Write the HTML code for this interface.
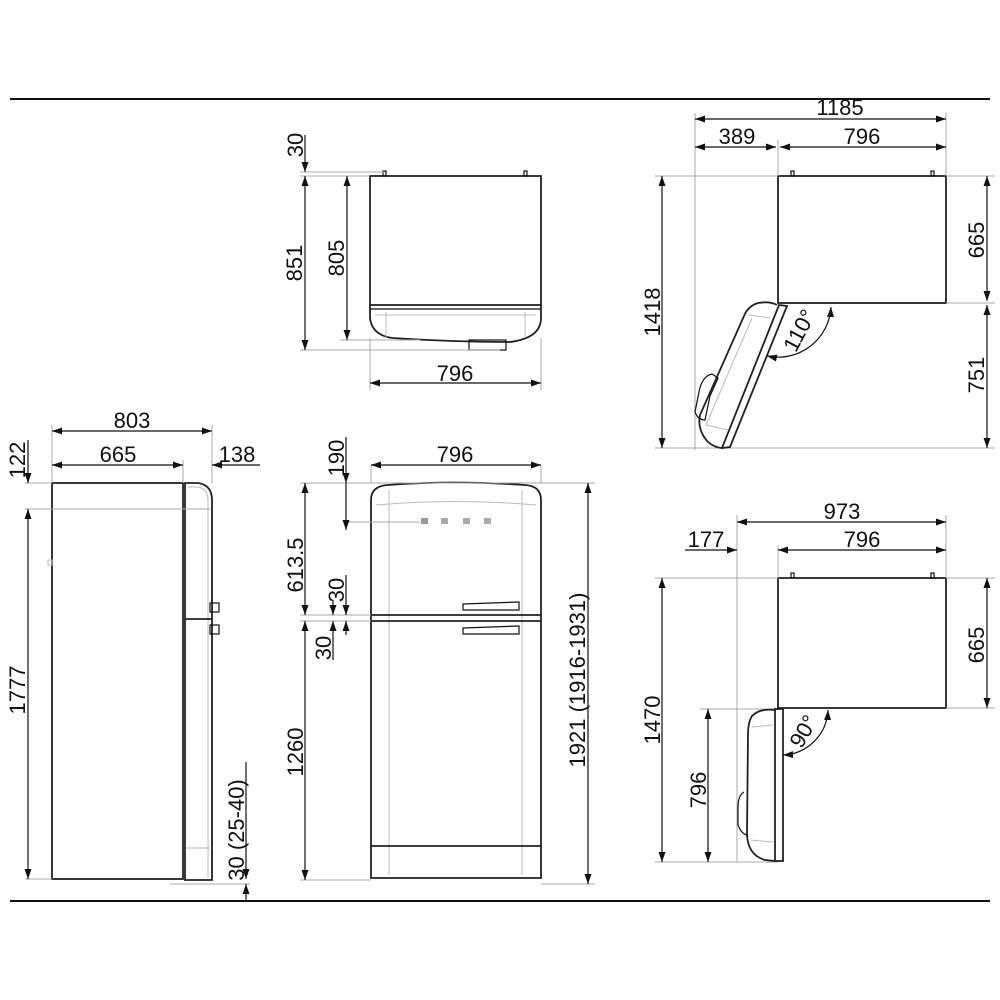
<!DOCTYPE html>
<html><head><meta charset="utf-8"><style>
html,body{margin:0;padding:0;background:#fff}
svg{display:block}
text{font-family:"Liberation Sans",sans-serif;font-size:22px;fill:#111}
.t{stroke:#aaa;stroke-width:1;fill:none}
.d{stroke:#111;stroke-width:1.2;fill:none}
.o{stroke:#222;stroke-width:1.8;fill:none}
.f{stroke:#bbb;stroke-width:1;fill:none}
</style></head><body>
<svg width="1000" height="1000" viewBox="0 0 1000 1000" xmlns="http://www.w3.org/2000/svg">
<defs>
<marker id="a" viewBox="0 0 10 10" refX="10" refY="5" markerWidth="10" markerHeight="10" markerUnits="userSpaceOnUse" orient="auto-start-reverse"><path d="M0,1.5 L10,5 L0,8.5 z" fill="#111"/></marker>
</defs>
<line x1="10" y1="99" x2="990" y2="99" stroke="#111" stroke-width="2"/>
<line x1="10" y1="901" x2="990" y2="901" stroke="#111" stroke-width="2"/>

<!-- TOP VIEW -->
<g>
<rect x="370" y="176" width="171" height="129" class="o"/>
<path d="M370,305 L370,318 Q372,335 392,338 Q455,342 510,342 Q541,338 541,318 L541,305" class="o"/>
<line x1="370" y1="309" x2="541" y2="309" class="d"/>
<line x1="386" y1="312" x2="386" y2="338" class="f"/><line x1="525" y1="312" x2="525" y2="338" class="f"/>
<line x1="375" y1="315" x2="536" y2="315" class="f"/>
<rect x="469" y="340" width="37" height="10" class="d"/>
<rect x="383" y="171" width="3" height="5" class="d"/><rect x="524" y="171" width="3" height="5" class="d"/>
<line x1="300" y1="172" x2="385" y2="172" class="t"/>
<line x1="300" y1="176" x2="370" y2="176" class="t"/>
<line x1="340" y1="340" x2="420" y2="340" class="t"/>
<line x1="300" y1="350" x2="500" y2="350" class="t"/>
<line x1="370" y1="338" x2="370" y2="390" class="t"/><line x1="541" y1="338" x2="541" y2="390" class="t"/>
<line x1="305" y1="135" x2="305" y2="172" class="d" marker-end="url(#a)"/>
<line x1="305" y1="176" x2="305" y2="350" class="d" marker-start="url(#a)" marker-end="url(#a)"/>
<line x1="347" y1="176" x2="347" y2="340" class="d" marker-start="url(#a)" marker-end="url(#a)"/>
<line x1="370" y1="383" x2="541" y2="383" class="d" marker-start="url(#a)" marker-end="url(#a)"/>
<text transform="translate(303,145) rotate(-90)" text-anchor="middle">30</text>
<text transform="translate(302,263) rotate(-90)" text-anchor="middle">851</text>
<text transform="translate(344,258) rotate(-90)" text-anchor="middle">805</text>
<text x="455" y="381" text-anchor="middle">796</text>
</g>

<!-- TOP RIGHT VIEW -->
<g>
<rect x="778" y="176" width="168" height="127" class="o"/>
<rect x="791" y="171" width="3" height="5" class="d"/><rect x="931" y="171" width="3" height="5" class="d"/>
<line x1="695" y1="113" x2="695" y2="450" class="t"/>
<line x1="778" y1="140" x2="778" y2="176" class="t"/>
<line x1="946" y1="113" x2="946" y2="176" class="t"/>
<line x1="655" y1="176" x2="778" y2="176" class="t"/>
<line x1="946" y1="176" x2="995" y2="176" class="t"/>
<line x1="946" y1="303" x2="995" y2="303" class="t"/>
<line x1="655" y1="448" x2="995" y2="448" class="t"/>
<line x1="695" y1="119" x2="946" y2="119" class="d" marker-start="url(#a)" marker-end="url(#a)"/>
<line x1="695" y1="147" x2="776" y2="147" class="d" marker-start="url(#a)" marker-end="url(#a)"/>
<line x1="780" y1="147" x2="946" y2="147" class="d" marker-start="url(#a)" marker-end="url(#a)"/>
<line x1="662" y1="176" x2="662" y2="448" class="d" marker-start="url(#a)" marker-end="url(#a)"/>
<line x1="987" y1="176" x2="987" y2="301" class="d" marker-start="url(#a)" marker-end="url(#a)"/>
<line x1="987" y1="305" x2="987" y2="448" class="d" marker-start="url(#a)" marker-end="url(#a)"/>
<text x="840" y="115" text-anchor="middle">1185</text>
<text x="737" y="144" text-anchor="middle">389</text>
<text x="862" y="144" text-anchor="middle">796</text>
<text transform="translate(660,312) rotate(-90)" text-anchor="middle">1418</text>
<text transform="translate(984,240) rotate(-90)" text-anchor="middle">665</text>
<text transform="translate(984,375) rotate(-90)" text-anchor="middle">751</text>
<!-- door -->
<path d="M779,305 L787,306 L730,447 L722,448 Z" class="o"/>
<path d="M777,305 Q770,301 758,303 Q748,306 744,316 L700,415 Q697,430 708,442 Q715,448 723,448" class="o"/>
<line x1="748" y1="315" x2="770" y2="318" class="f"/><line x1="706" y1="425" x2="728" y2="430" class="f"/>
<line x1="752" y1="318" x2="706" y2="425" class="f"/>
<path d="M712,374 Q702,376 699,392 L695,412 Q698,420 705,420 L710,396 Q715,385 718,378 Z" class="d"/>
<path d="M831,307 A53,53 0 0 1 767,356" class="d" marker-start="url(#a)" marker-end="url(#a)"/>
<text transform="translate(806,334) rotate(-62)" text-anchor="middle">110°</text>
</g>

<!-- BOTTOM RIGHT VIEW -->
<g>
<rect x="778" y="578" width="168" height="130" class="o"/>
<rect x="791" y="573" width="3" height="5" class="d"/><rect x="931" y="573" width="3" height="5" class="d"/>
<line x1="737" y1="515" x2="737" y2="862" class="t"/>
<line x1="778" y1="545" x2="778" y2="578" class="t"/>
<line x1="946" y1="515" x2="946" y2="578" class="t"/>
<line x1="655" y1="578" x2="778" y2="578" class="t"/>
<line x1="946" y1="578" x2="995" y2="578" class="t"/>
<line x1="946" y1="708" x2="995" y2="708" class="t"/>
<line x1="700" y1="709" x2="778" y2="709" class="t"/>
<line x1="655" y1="862" x2="778" y2="862" class="t"/>
<line x1="737" y1="522" x2="946" y2="522" class="d" marker-start="url(#a)" marker-end="url(#a)"/>
<line x1="685" y1="550" x2="737" y2="550" class="d" marker-end="url(#a)"/>
<line x1="778" y1="550" x2="946" y2="550" class="d" marker-start="url(#a)" marker-end="url(#a)"/>
<line x1="662" y1="578" x2="662" y2="862" class="d" marker-start="url(#a)" marker-end="url(#a)"/>
<line x1="708" y1="709" x2="708" y2="862" class="d" marker-start="url(#a)" marker-end="url(#a)"/>
<line x1="987" y1="578" x2="987" y2="708" class="d" marker-start="url(#a)" marker-end="url(#a)"/>
<text x="842" y="519" text-anchor="middle">973</text>
<text x="706" y="547" text-anchor="middle">177</text>
<text x="862" y="547" text-anchor="middle">796</text>
<text transform="translate(660,720) rotate(-90)" text-anchor="middle">1470</text>
<text transform="translate(706,790) rotate(-90)" text-anchor="middle">796</text>
<text transform="translate(984,645) rotate(-90)" text-anchor="middle">665</text>
<rect x="775" y="709" width="8" height="152" class="o"/>
<path d="M775,710 Q760,708 752,716 Q748,722 748,735 L747,835 Q748,855 765,860 L775,861" class="o"/>
<line x1="752" y1="727" x2="773" y2="725" class="f"/><line x1="750" y1="840" x2="773" y2="842" class="f"/>
<path d="M744,792 Q738,795 738,808 L738,825 Q742,835 748,835" class="d"/>
<path d="M828,710 A47,47 0 0 1 783,755" class="d" marker-start="url(#a)" marker-end="url(#a)"/>
<text transform="translate(810,735) rotate(-60)" text-anchor="middle">90°</text>
</g>

<!-- SIDE VIEW -->
<g>
<rect x="52" y="483" width="131" height="396" class="o"/>
<path d="M185,880 L185,483 L198,483 Q212,485 212,500 L212,880 Z" class="o"/>
<path d="M188,487 L198,487 Q208,489 208,500 L208,877" class="f"/>
<line x1="185" y1="619" x2="212" y2="619" class="o"/>
<line x1="186" y1="848" x2="210" y2="848" class="f"/>
<rect x="210" y="603" width="9" height="9" class="d"/><rect x="210" y="625" width="9" height="9" class="d"/>
<rect x="48" y="560" width="4" height="5" class="f"/>
<line x1="52" y1="425" x2="52" y2="483" class="t"/>
<line x1="212" y1="425" x2="212" y2="483" class="t"/>
<line x1="183" y1="460" x2="183" y2="483" class="t"/>
<line x1="25" y1="483" x2="52" y2="483" class="t"/>
<line x1="25" y1="509" x2="210" y2="509" class="t"/>
<line x1="25" y1="879" x2="52" y2="879" class="t"/>
<line x1="170" y1="884" x2="250" y2="884" class="t"/>
<line x1="52" y1="431" x2="212" y2="431" class="d" marker-start="url(#a)" marker-end="url(#a)"/>
<line x1="52" y1="465" x2="183" y2="465" class="d" marker-start="url(#a)" marker-end="url(#a)"/>
<line x1="260" y1="465" x2="212" y2="465" class="d" marker-end="url(#a)"/>
<line x1="28" y1="440" x2="28" y2="483" class="d" marker-end="url(#a)"/>
<line x1="28" y1="509" x2="28" y2="879" class="d" marker-start="url(#a)" marker-end="url(#a)"/>
<line x1="246" y1="762" x2="246" y2="879" class="d" marker-end="url(#a)"/>
<line x1="246" y1="900" x2="246" y2="884" class="d" marker-end="url(#a)"/>
<text x="132" y="428" text-anchor="middle">803</text>
<text x="118" y="462" text-anchor="middle">665</text>
<text x="237" y="462" text-anchor="middle">138</text>
<text transform="translate(25,460) rotate(-90)" text-anchor="middle">122</text>
<text transform="translate(25,690) rotate(-90)" text-anchor="middle">1777</text>
<text transform="translate(244,830) rotate(-90)" text-anchor="middle">30 (25-40)</text>
</g>

<!-- FRONT VIEW -->
<g>
<path d="M371,878 L371,500 Q371,486 388,485 Q455,480 525,485 Q541,486 541,500 L541,878 Z" class="o"/>
<path d="M376,505 Q455,498 536,505" class="f"/>
<line x1="389" y1="490" x2="389" y2="875" class="f"/><line x1="522" y1="490" x2="522" y2="875" class="f"/>
<line x1="371" y1="615" x2="541" y2="615" class="o"/>
<line x1="371" y1="621" x2="541" y2="621" class="o"/>
<line x1="371" y1="846" x2="541" y2="846" class="o"/>
<rect x="421" y="518" width="7" height="6" fill="#999"/><rect x="441" y="518" width="7" height="6" fill="#aaa"/>
<rect x="463" y="518" width="7" height="6" fill="#aaa"/><rect x="484" y="518" width="7" height="6" fill="#aaa"/>
<path d="M463,604 L519,602 L519,610 L463,610 Z" class="d"/>
<path d="M463,628 L519,626 L519,634 L463,634 Z" class="d"/>
<line x1="371" y1="465" x2="371" y2="483" class="t"/><line x1="541" y1="465" x2="541" y2="483" class="t"/>
<line x1="300" y1="483" x2="595" y2="483" class="t"/>
<line x1="344" y1="522" x2="420" y2="522" class="t"/>
<line x1="300" y1="615" x2="371" y2="615" class="t"/>
<line x1="300" y1="621" x2="371" y2="621" class="t"/>
<line x1="300" y1="880" x2="371" y2="880" class="t"/>
<line x1="541" y1="884" x2="595" y2="884" class="t"/>
<line x1="371" y1="465" x2="541" y2="465" class="d" marker-start="url(#a)" marker-end="url(#a)"/>
<line x1="346" y1="437" x2="346" y2="483" class="d" marker-end="url(#a)"/>
<line x1="346" y1="530" x2="346" y2="483" class="d" marker-start="url(#a)"/>
<line x1="305" y1="483" x2="305" y2="615" class="d" marker-start="url(#a)" marker-end="url(#a)"/>
<line x1="305" y1="621" x2="305" y2="880" class="d" marker-start="url(#a)" marker-end="url(#a)"/>
<line x1="346" y1="575" x2="346" y2="615" class="d" marker-end="url(#a)"/>
<line x1="346" y1="635" x2="346" y2="621" class="d" marker-end="url(#a)"/>
<line x1="333" y1="600" x2="333" y2="615" class="d" marker-end="url(#a)"/>
<line x1="333" y1="660" x2="333" y2="621" class="d" marker-end="url(#a)"/>
<line x1="588" y1="483" x2="588" y2="884" class="d" marker-start="url(#a)" marker-end="url(#a)"/>
<text x="455" y="462" text-anchor="middle">796</text>
<text transform="translate(344,458) rotate(-90)" text-anchor="middle">190</text>
<text transform="translate(303,565) rotate(-90)" text-anchor="middle">613.5</text>
<text transform="translate(344,590) rotate(-90)" text-anchor="middle">30</text>
<text transform="translate(331,648) rotate(-90)" text-anchor="middle">30</text>
<text transform="translate(303,752) rotate(-90)" text-anchor="middle">1260</text>
<text transform="translate(585,680) rotate(-90)" text-anchor="middle">1921 (1916-1931)</text>
</g>
</svg>
</body></html>
